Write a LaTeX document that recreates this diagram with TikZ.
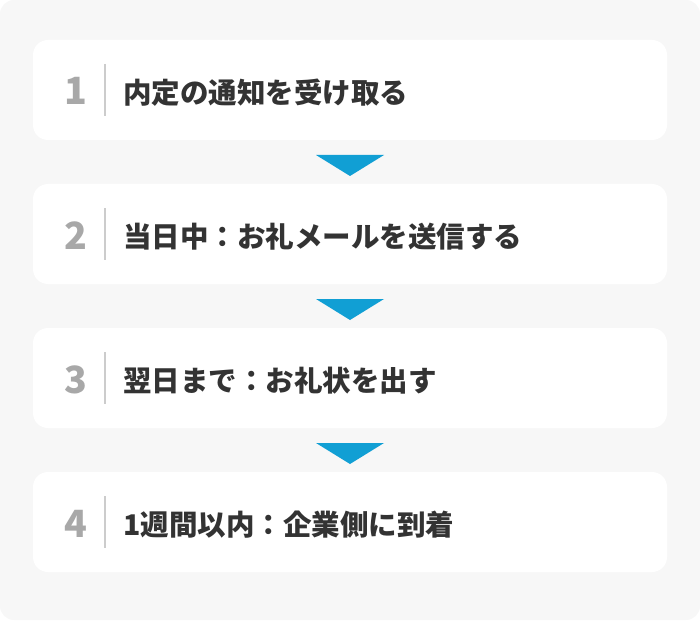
\documentclass[tikz,border=0pt]{standalone}
\usepackage{fontspec}
\setmainfont{Noto Sans CJK JP}
\definecolor{bggray}{HTML}{F7F7F7}
\definecolor{txt}{HTML}{333333}
\definecolor{numc}{HTML}{A8A8A8}
\definecolor{divc}{HTML}{CCCCCC}
\definecolor{arrc}{HTML}{119FD4}
\begin{document}
\begin{tikzpicture}[x=1pt,y=-1pt,
  stepbox/.style={fill=white,rounded corners=15pt,draw=none},
  numtxt/.style={anchor=base,inner sep=0pt,text=numc,font=\fontsize{37.5}{39}\selectfont\bfseries},
  steptxt/.style={anchor=base west,inner sep=0pt,text=txt,font=\fontsize{28.5}{30}\selectfont\bfseries},
  divline/.style={draw=divc,line width=1.6pt},
  arrtri/.style={fill=arrc,draw=none}]
\useasboundingbox (0,0) rectangle (700,620);
\fill[bggray,rounded corners=14pt] (0,0) rectangle (700,620);
\foreach \i/\t/\lbl in {1/40/内定の通知を受け取る,2/184/当日中：お礼メールを送信する,3/328/翌日まで：お礼状を出す,4/472/1週間以内：企業側に到着}{
  \fill[stepbox] (33,\t) rectangle (667,\t+100);
  \node[numtxt] (n\i) at (76,\t+65) {\i};
  \coordinate (d\i a) at (105,\t+24);
  \coordinate (d\i b) at (105,\t+76);
  \draw[divline] (d\i a) -- (d\i b);
  \node[steptxt] (s\i) at (123,\t+63.5) {\lbl};
}
\foreach \t in {155,299,443}{
  \fill[arrtri] (316,\t) -- (384,\t) -- (350,\t+21) -- cycle;
}
\end{tikzpicture}
\end{document}
